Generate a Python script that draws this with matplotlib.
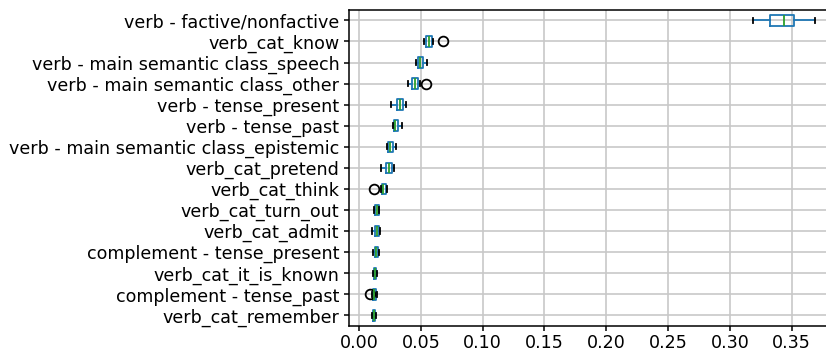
import matplotlib.pyplot as plt

# feature names, top to bottom
features = [
    'verb - factive/nonfactive',
    'verb_cat_know',
    'verb - main semantic class_speech',
    'verb - main semantic class_other',
    'verb - tense_present',
    'verb - tense_past',
    'verb - main semantic class_epistemic',
    'verb_cat_pretend',
    'verb_cat_think',
    'verb_cat_turn_out',
    'verb_cat_admit',
    'complement - tense_present',
    'verb_cat_it_is_known',
    'complement - tense_past',
    'verb_cat_remember',
]

# box statistics
whislo = [0.319, 0.0527, 0.0462, 0.0397, 0.0259, 0.0275, 0.0227, 0.0178, 0.0178,
          0.0122, 0.0105, 0.0113, 0.0110, 0.0105, 0.0105]
q1 = [0.332, 0.0543, 0.0478, 0.0430, 0.0308, 0.0283, 0.0235, 0.0219, 0.0186,
      0.0126, 0.0126, 0.0126, 0.0120, 0.0113, 0.0113]
med = [0.344, 0.0567, 0.0494, 0.0454, 0.0332, 0.0290, 0.0250, 0.0243, 0.0194,
       0.0146, 0.0146, 0.0138, 0.0130, 0.0125, 0.0122]
q3 = [0.352, 0.0591, 0.0519, 0.0478, 0.0357, 0.0316, 0.0275, 0.0267, 0.0219,
      0.0160, 0.0160, 0.0150, 0.0140, 0.0138, 0.0130]
whishi = [0.369, 0.0600, 0.0551, 0.0490, 0.0380, 0.0350, 0.0300, 0.0284, 0.0227,
          0.0162, 0.0170, 0.0162, 0.0146, 0.0145, 0.0140]
fliers = [[], [0.068], [], [0.0543], [], [], [], [], [0.0122],
          [], [], [], [], [0.0085], []]

stats = []
for i, name in enumerate(features):
    stats.append({'label': name, 'whislo': whislo[i], 'q1': q1[i], 'med': med[i],
                  'q3': q3[i], 'whishi': whishi[i], 'fliers': fliers[i]})

plt.rcParams['axes.linewidth'] = 1.1
fig = plt.figure(figsize=(8.26, 3.52), dpi=100)
ax = fig.add_axes([0.4225, 0.074, 0.585, 0.898])

n = len(features)
lw = 1.3
ax.bxp(stats, positions=list(range(n, 0, -1)), vert=False, widths=0.5,
       boxprops=dict(color='#1f77b4', linewidth=lw),
       whiskerprops=dict(color='#1f77b4', linewidth=lw),
       medianprops=dict(color='#2ca02c', linewidth=lw),
       capprops=dict(color='k', linewidth=lw),
       flierprops=dict(marker='o', markersize=7, markerfacecolor='none',
                       markeredgecolor='k', markeredgewidth=1.3))

ax.set_yticks(list(range(n, 0, -1)))
ax.set_yticklabels(features, fontsize=12.6)
ax.set_xticks([0.0, 0.05, 0.10, 0.15, 0.20, 0.25, 0.30, 0.35])
ax.set_xticklabels(['0.00', '0.05', '0.10', '0.15', '0.20', '0.25', '0.30', '0.35'], fontsize=12.6)
ax.set_xlim(-0.0081, 0.3827)
ax.set_ylim(0.5, n + 0.5)
ax.grid(True, color='#c8c8c8', linewidth=1.2)
ax.set_axisbelow(True)
ax.tick_params(width=1.1)
ax.tick_params(axis='x', pad=2.5)

fig.savefig('out.png', dpi=100)
